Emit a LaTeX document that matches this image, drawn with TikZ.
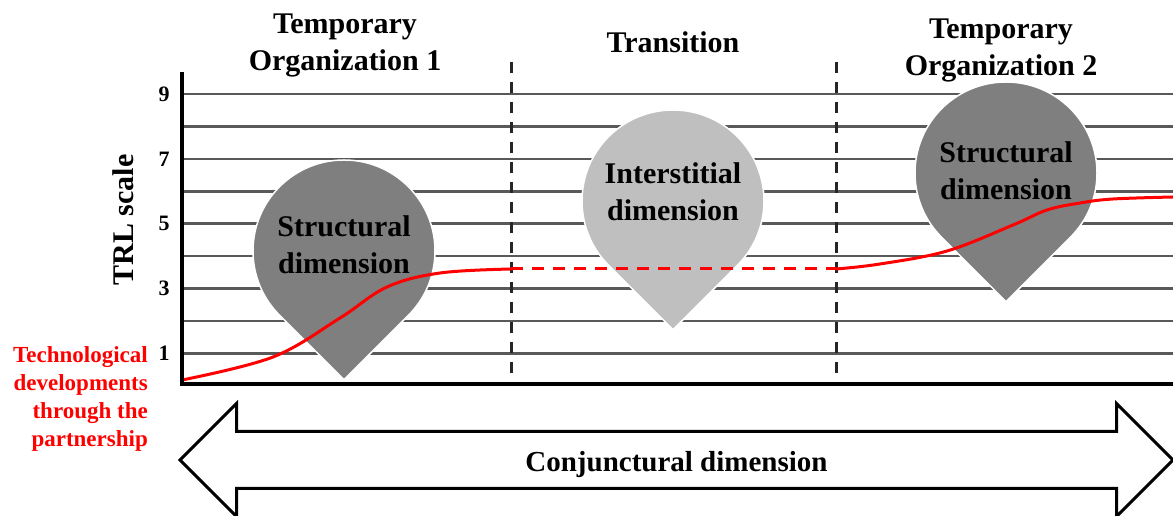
\documentclass[tikz,border=0pt]{standalone}
\usepackage{fontspec}
\setmainfont{Liberation Serif}
\usetikzlibrary{positioning,shapes.arrows}
\definecolor{gridgray}{HTML}{595959}
\definecolor{pindark}{HTML}{7F7F7F}
\definecolor{pinlight}{HTML}{BFBFBF}
\definecolor{trlred}{HTML}{FF0000}
% pin: name, x, y, fill, text y, text
\newcommand{\dimpin}[6]{%
  \fill[#4,draw=white,line width=1.5pt] (#2,#3) ++(-45:91)
    arc[start angle=-45,end angle=225,radius=91] -- (#2,#3-128.7) -- cycle;
  \node[pintext] (#1) at (#2,#5) {#6};
}

\begin{document}
\begin{tikzpicture}[x=1pt,y=1pt,
  gridline/.style={gridgray,line width=2.5pt},
  axisline/.style={black,line width=4pt},
  phaseline/.style={black!85,line width=3pt,dash pattern=on 11pt off 9pt},
  trlline/.style={trlred,line width=3pt},
  heading/.style={font=\bfseries\fontsize{30}{37}\selectfont,align=center,inner sep=0pt},
  pintext/.style={font=\bfseries\fontsize{30}{37}\selectfont,align=center,inner sep=0pt},
  ticklabel/.style={font=\bfseries\fontsize{22}{26}\selectfont,inner sep=0pt},
  conjarrow/.style={double arrow,draw=black,fill=white,line width=3pt,
    minimum height=993pt,minimum width=110pt,double arrow head extend=28pt,
    inner sep=0pt,text height=39pt,text depth=15pt,
    font=\bfseries\fontsize{29}{34}\selectfont}]
  \useasboundingbox (0,0) rectangle (1173,516);

  % TRL levels
  \foreach \k in {1,...,9}
    \draw[gridline] (182,130+32.45*\k) -- (1173,130+32.45*\k);
  \foreach \k in {1,3,5,7,9}
    \node[ticklabel] (tick\k) at (164,130+32.45*\k) {\k};
  \node[rotate=90,anchor=base,font=\bfseries\fontsize{30}{36}\selectfont,inner sep=0pt]
    (trlscale) at (133,296) {TRL scale};

  % phases
  \foreach \x/\n in {511/a,836/b}
    \draw[phaseline] (\x,454) -- (\x,132);
  \node[heading] (org1) at (345,471) {Temporary\\Organization 1};
  \node[heading,anchor=base] (trans) at (673,463) {Transition};
  \node[heading] (org2) at (1001,466) {Temporary\\Organization 2};

  % dimensions
  \dimpin{struct1}{344}{265}{pindark}{271}{Structural\\dimension}
  \dimpin{inter}{673}{315}{pinlight}{324}{Interstitial\\dimension}
  \dimpin{struct2}{1006}{343}{pindark}{345}{Structural\\dimension}

  % technological developments
  \coordinate (trla) at (511,247);
  \coordinate (trlb) at (836,247);
  \draw[trlline] plot[smooth,tension=0.6] coordinates {(182,136) (273,159)
    (340,198) (387,229) (440,243) (511,247)};
  \draw[trlline,dash pattern=on 12pt off 9pt] (trla) -- (trlb);
  \draw[trlline] plot[smooth,tension=0.6] coordinates {(836,247) (880,252) (947,265)
    (1013,291) (1047,306) (1080,313) (1113,317) (1173,319)};
  \node[anchor=east,align=right,text=trlred,inner sep=0pt,
        font=\bfseries\fontsize{23}{28}\selectfont] (techdev) at (148,117)
    {Technological\\developments\\through the\\partnership};

  % axes
  \draw[axisline] (182,444) -- (182,132) -- (1173,132);

  \node[conjarrow] (conj) at (676.5,56) {Conjunctural dimension};
\end{tikzpicture}
\end{document}
